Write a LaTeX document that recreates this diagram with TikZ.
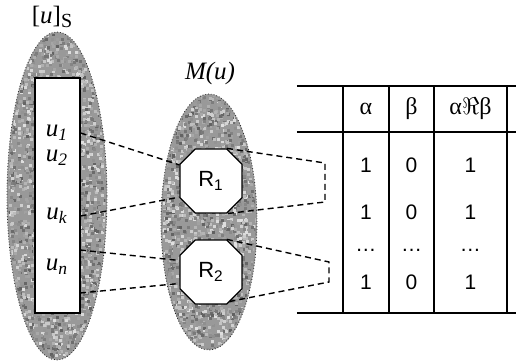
\documentclass[tikz,border=0pt]{standalone}
\usepackage{fontspec}
\setmainfont{Liberation Serif}
\setsansfont{Liberation Sans}
\usepackage{amssymb}
\usetikzlibrary{shapes.geometric,shapes.misc}
\tikzset{
  setblob/.style={ellipse, draw=black!85, densely dotted, fill=black!40, inner sep=0pt},
  elembox/.style={rectangle, draw, line width=0.6pt, fill=white, inner sep=0pt},
  relbox/.style={chamfered rectangle, chamfered rectangle xsep=6pt, draw, line width=0.6pt,
    fill=white, inner sep=0pt, minimum width=31pt, minimum height=32pt,
    font=\sffamily\fontsize{11}{12}\selectfont},
  elem/.style={font=\fontsize{12.5}{14}\selectfont\itshape, inner sep=0pt},
  link/.style={line width=0.7pt, dash pattern=on 3pt off 2pt},
  cell/.style={font=\sffamily\fontsize{10.5}{12}\selectfont, inner sep=0pt},
  greek/.style={font=\rmfamily\fontsize{12}{12}\selectfont, inner sep=0pt},
  tabrule/.style={line width=0.6pt}
}

\begin{document}
\begin{tikzpicture}[x=0.5pt, y=-0.5pt]
  \useasboundingbox (0,0) rectangle (516,362);
  % the two grainy sets
  \node[setblob, minimum width=50pt, minimum height=164pt] (lset) at (57,196) {};
  \node[setblob, minimum width=48pt, minimum height=128pt] (mset) at (209,222) {};
  \pgfmathsetseed{11}
  \foreach \cx/\cy/\rx/\ry/\n in {57/196/50/164/2600, 209/222/48/128/2000} {
    \begin{scope}
      \clip (\cx,\cy) ellipse [x radius=\rx-1.5, y radius=\ry-1.5];
      \foreach \k in {1,...,\n} {
        \pgfmathsetmacro\px{\cx+\rx*rand}
        \pgfmathsetmacro\py{\cy+\ry*rand}
        \pgfmathsetmacro\g{int(random(12,62))}
        \fill[black!\g] (\px,\py) rectangle ++(3,3);
      }
    \end{scope}
  }
  \node[font=\fontsize{12.5}{14}\selectfont] (lname) at (52,17)
    {[\textit{u}]\raisebox{-0.4ex}{\fontsize{10}{12}\selectfont S}};
  \node[font=\fontsize{12.5}{14}\selectfont\itshape] (mname) at (210,73) {M(u)};

  % elements of the class
  \node[elembox, minimum width=22.5pt, minimum height=117.5pt] (uset) at (57.5,195.5) {};
  \node[elem] (u1) at (57,133) {u\textsubscript{1}};
  \node[elem] (u2) at (57,158) {u\textsubscript{2}};
  \node[elem] (uk) at (57,216) {u\textsubscript{k}};
  \node[elem] (un) at (57,267) {u\textsubscript{n}};
  \coordinate (q1) at (80,250);
  \coordinate (q2) at (80,293);

  % relations
  \node[relbox] (r1) at (211,181) {R\textsubscript{1}};
  \node[relbox] (r2) at (211,272) {R\textsubscript{2}};

  \draw[link] (u1 -| uset.east) -- (r1.153);
  \draw[link] (uk -| uset.east) -- (r1.207);
  \draw[link] (q1) -- (r2.160);
  \draw[link] (q2) -- (r2.200);

  \coordinate (c1a) at (325,163);
  \coordinate (c1b) at (325,202);
  \coordinate (c2a) at (329,262);
  \coordinate (c2b) at (329,282);
  \draw[link] (r1.64) -- (c1a) -- (c1b) -- (r1.-64);
  \draw[link] (r2.64) -- (c2a) -- (c2b) -- (r2.-57);

  % the table
  \draw[tabrule] (297,86) -- (516,86);
  \draw[tabrule] (297,132) -- (516,132);
  \draw[tabrule] (297,313) -- (516,313);
  \foreach \x in {343,389,434,507}
    \draw[tabrule] (\x,86) -- (\x,313);
  \node[greek] (ha) at (366,109) {α};
  \node[greek] (hb) at (411.5,109) {β};
  \node[greek] (hr) at (470.5,109) {α$\Re$β};
  \foreach \y/\r in {165/a, 212/b, 282/d} {
    \node[cell] (a\r) at (366,\y) {1};
    \node[cell] (b\r) at (411.5,\y) {0};
    \node[cell] (r\r) at (470.5,\y) {1};
  }
  \node[cell] (ac) at (366,250) {\dots};
  \node[cell] (bc) at (411.5,250) {\dots};
  \node[cell] (rc) at (470.5,250) {\dots};
\end{tikzpicture}
\end{document}
